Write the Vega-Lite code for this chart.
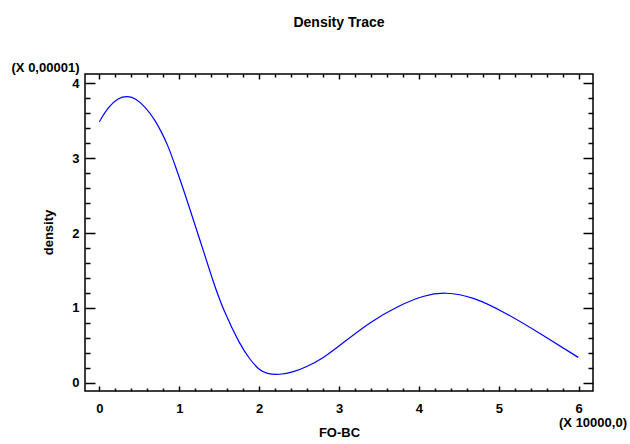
{
  "$schema": "https://vega.github.io/schema/vega-lite/v6.json",
  "width": 508,
  "height": 317,
  "autosize": "none",
  "padding": {"left": 85, "top": 74, "right": 37, "bottom": 53},
  "background": "white",
  "title": {"text": "Density Trace", "anchor": "middle", "frame": "group", "offset": 31, "font": "Liberation Sans", "fontSize": 14, "fontWeight": "bold", "color": "black"},
  "config": {
    "view": {"stroke": "black", "strokeWidth": 1.5},
    "axis": {"grid": false, "domain": false, "tickColor": "black", "tickWidth": 1.5, "labelFont": "Liberation Sans", "labelFontSize": 13, "labelFontWeight": "bold", "labelColor": "black", "titleFont": "Liberation Sans", "titleFontSize": 13, "titleFontWeight": "bold", "titleColor": "black"}
  },
  "data": {"values": [
    {"x": 0.0, "d": 3.487},
    {"x": 0.113, "d": 3.687},
    {"x": 0.238, "d": 3.805},
    {"x": 0.343, "d": 3.83},
    {"x": 0.447, "d": 3.805},
    {"x": 0.572, "d": 3.687},
    {"x": 0.697, "d": 3.51},
    {"x": 0.781, "d": 3.34},
    {"x": 0.856, "d": 3.176},
    {"x": 0.95, "d": 2.9},
    {"x": 1.073, "d": 2.52},
    {"x": 1.252, "d": 1.93},
    {"x": 1.427, "d": 1.34},
    {"x": 1.552, "d": 0.97},
    {"x": 1.761, "d": 0.504},
    {"x": 1.886, "d": 0.31},
    {"x": 1.99, "d": 0.18},
    {"x": 2.095, "d": 0.118},
    {"x": 2.262, "d": 0.105},
    {"x": 2.428, "d": 0.143},
    {"x": 2.596, "d": 0.214},
    {"x": 2.803, "d": 0.33},
    {"x": 3.012, "d": 0.5},
    {"x": 3.388, "d": 0.815},
    {"x": 3.763, "d": 1.038},
    {"x": 4.055, "d": 1.165},
    {"x": 4.327, "d": 1.215},
    {"x": 4.681, "d": 1.15},
    {"x": 5.099, "d": 0.927},
    {"x": 5.516, "d": 0.66},
    {"x": 5.995, "d": 0.339}
  ]},
  "resolve": {"axis": {"x": "independent", "y": "independent"}},
  "layer": [
    {
      "mark": {"type": "line", "color": "#0000ff", "strokeWidth": 1.2, "interpolate": "basis"},
      "encoding": {
        "x": {"field": "x", "type": "quantitative", "scale": {"domain": [-0.18, 6.18], "nice": false, "zero": false},
              "axis": {"orient": "bottom", "values": [0,1,2,3,4,5,6], "tickSize": -5, "labelPadding": 16, "title": "FO-BC", "titleX": 254, "titleY": 41, "titleBaseline": "middle", "titleAlign": "center"}},
        "y": {"field": "d", "type": "quantitative", "scale": {"domain": [-0.11, 4.124], "nice": false, "zero": false},
              "axis": {"orient": "left", "values": [0,1,2,3,4], "tickSize": -10, "labelPadding": 16, "title": "density", "titleX": -37, "titleY": 158, "titleBaseline": "middle", "titleAlign": "center", "titleAngle": -90}}
      }
    },
    {
      "mark": {"type": "line", "opacity": 0},
      "encoding": {
        "x": {"field": "x", "type": "quantitative", "axis": {"orient": "bottom", "values": [0.2,0.4,0.6,0.8,1.2,1.4,1.6,1.8,2.2,2.4,2.6,2.8,3.2,3.4,3.6,3.8,4.2,4.4,4.6,4.8,5.2,5.4,5.6,5.8], "tickSize": -3, "labels": false, "title": null}},
        "y": {"field": "d", "type": "quantitative", "axis": {"orient": "left", "values": [0.2,0.4,0.6,0.8,1.2,1.4,1.6,1.8,2.2,2.4,2.6,2.8,3.2,3.4,3.6,3.8], "tickSize": -5, "labels": false, "title": null}}
      }
    },
    {
      "mark": {"type": "line", "opacity": 0},
      "encoding": {
        "x": {"field": "x", "type": "quantitative", "axis": {"orient": "top", "values": [0,1,2,3,4,5,6], "tickSize": -5, "labels": false, "title": "(X 0,00001)", "titleX": -40, "titleY": -7, "titleBaseline": "middle", "titleAlign": "center", "titleFontSize": 13}},
        "y": {"field": "d", "type": "quantitative", "axis": {"orient": "right", "values": [0,1,2,3,4], "tickSize": -10, "labels": false, "title": "(X 10000,0)", "titleX": -0.5, "titleY": 348, "titleAngle": 0, "titleBaseline": "middle", "titleAlign": "center", "titleFontSize": 13}}
      }
    },
    {
      "mark": {"type": "line", "opacity": 0},
      "encoding": {
        "x": {"field": "x", "type": "quantitative", "axis": {"orient": "top", "values": [0.2,0.4,0.6,0.8,1.2,1.4,1.6,1.8,2.2,2.4,2.6,2.8,3.2,3.4,3.6,3.8,4.2,4.4,4.6,4.8,5.2,5.4,5.6,5.8], "tickSize": -3, "labels": false, "title": null}},
        "y": {"field": "d", "type": "quantitative", "axis": {"orient": "right", "values": [0.2,0.4,0.6,0.8,1.2,1.4,1.6,1.8,2.2,2.4,2.6,2.8,3.2,3.4,3.6,3.8], "tickSize": -5, "labels": false, "title": null}}
      }
    }
  ]
}
